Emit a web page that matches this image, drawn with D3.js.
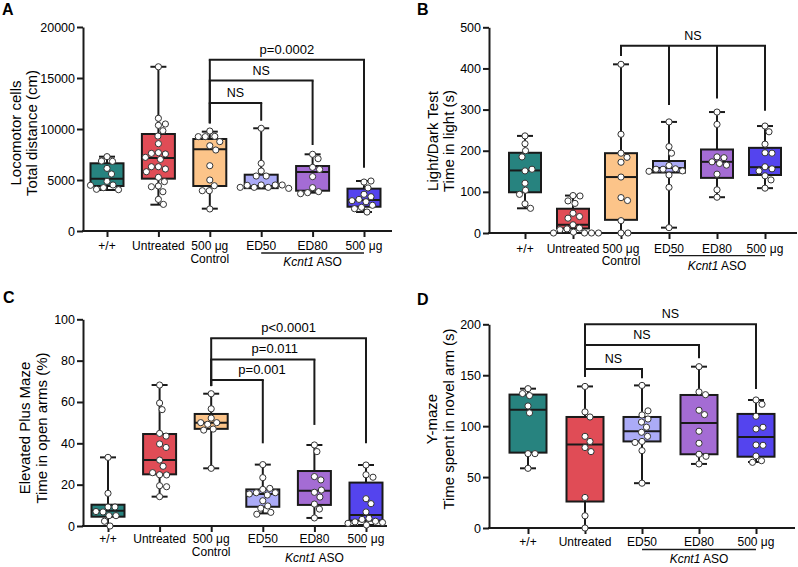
<!DOCTYPE html>
<html><head><meta charset="utf-8">
<script src="https://cdn.jsdelivr.net/npm/d3@7"></script>
<style>body{margin:0;background:#fff} text{font-family:"Liberation Sans",Arial,Helvetica,sans-serif;fill:#000}</style>
</head><body><svg id="c" width="798" height="567"></svg>
<script>
// ---------- DATA ----------
const groupsABC = ["+/+", "Untreated", "500 μg Control", "ED50", "ED80", "500 μg ASO"];
const groupsD = ["+/+", "Untreated", "ED50", "ED80", "500 μg ASO"];
const xLabelsABC = [["+/+"], ["Untreated"], ["500 μg", "Control"], ["ED50"], ["ED80"], ["500 μg"]];
const xLabelsD = [["+/+"], ["Untreated"], ["ED50"], ["ED80"], ["500 μg"]];
const colorsABC = ["#27837f", "#e04c56", "#fcc489", "#ababf7", "#a46cd4", "#5444ee"];
const colorsD = ["#27837f", "#e04c56", "#ababf7", "#a46cd4", "#5444ee"];

const ticksA = [0, 5000, 10000, 15000, 20000];
const ticksB = [0, 100, 200, 300, 400, 500];
const ticksC = [0, 20, 40, 60, 80, 100];
const ticksD = [0, 50, 100, 150, 200];

const titleA = ["Locomotor cells", "Total distance (cm)"];
const titleB = ["Light/Dark Test", "Time in light (s)"];
const titleC = ["Elevated Plus Maze", "Time in open arms (%)"];
const titleD = ["Y-maze", "Time spent in novel arm (s)"];

// box stats: [min, q1, median, q3, max]
const boxA = [[4020,4412,5131,6637,7287],[2580,5131,7157,9510,16100],[2190,4412,8010,9020,9740],
              [4180,4200,4400,5520,10070],[3760,3950,5780,6370,7520],[1860,2380,3040,4150,4900]];
const pointsA = [
  [7290,6830,6860,6140,5590,4870,4510,4250,4090,4050,4480],
  [16100,11050,10360,10490,9830,9310,8560,7680,7550,7610,7220,7020,6300,6080,6300,5810,5260,4840,4410,4340,3850,3100,2610],
  [9800,9280,9250,9250,8760,8360,7940,6400,5000,4440,3950,3950,2160],
  [10070,6630,5880,5390,5390,4510,4280,4280,4510,4480,4510,4280,4180],
  [7520,7090,6240,6040,5330,4250,3860,3760,3660],
  [4800,4900,4220,3600,3360,3100,2970,2870,2520,2320,2190,1860]];

const boxB = [[60,99,152,195,236],[0,11,20,59,91],[0,32,136,194,410],
              [13,147,158,175,270],[87,134,173,203,294],[109,141,160,207,260]];
const pointsB = [
  [236,217,200,185,151,155,121,104,94,71,60],
  [91,90,78,72,48,40,36,20,12,10,8,2,0,0,0,0],
  [410,240,194,184,172,136,86,79,30,0,0],
  [270,210,194,164,156,155,155,151,150,141,111,13],
  [294,264,185,183,169,173,165,143,105,87],
  [260,246,216,195,194,161,156,151,139,129,109]];

const boxC = [[0,4.5,7.4,10.3,33.2],[14.2,25,31.9,44.5,68.2],[27.9,47,50,54.2,64],
              [6.1,9.3,15.5,17.7,29.7],[3.9,10.2,17.1,26.6,39.2],[0.5,2.6,5.3,21,29.5]];
const pointsC = [
  [33.2,15.8,9.2,9.2,6.8,7,5,5,2.3,0],
  [68.2,59.5,56.3,44.8,43.5,39.7,38,31.9,28.9,24.8,24.7,25.8,19.5,19,14.2],
  [64,56.7,52.2,50,49.2,50,46.9,46.4,27.9],
  [29.7,23.4,17.7,18.2,15,16.1,16.1,15.5,12.2,9.7,8.6,6.6,5.7],
  [39.2,36,23.9,22.3,16.3,17.4,14,10.6,8.2,3.9],
  [29.5,24.8,23.6,13.2,10.8,6.8,3.7,3.2,2.3,2,1.7,1.3,0.5]];

const boxD = [[58.6,74,116,131,136.8],[0,26,82,109,139],[44,85,95,109,140],
              [62.9,72.4,103,130.6,158.4],[64.8,70,89.4,112,125.7]];
const pointsD = [
  [136.8,130,132,119.8,113,73,73,58.6],
  [139,114,109,90,85,79,75,30,12,0],
  [140,111,115,107,104,99,94,90,85,84,76,44],
  [158.4,133.6,130.9,115.6,111.3,95,83.2,72.4,70.4,62.9],
  [125.7,121.5,109.7,97.2,98.9,81.5,81.2,70.7,66.1,64.5]];

// significance brackets: label, bar level, legs [group index, leg end value]
const bracketsA = [
  {label: "p=0.0002", level: 16800, legs: [[2, 10560], [5, 6200]]},
  {label: "NS", level: 14750, legs: [[2, 10560], [4, 8430]]},
  {label: "NS", level: 12550, legs: [[2, 10560], [3, 10810]]}];
const bracketsB = [
  {label: "NS", level: 455, legs: [[2, 430], [3, 311], [4, 327], [5, 297]]}];
const bracketsC = [
  {label: "p<0.0001", level: 90.8, legs: [[2, 67.7], [5, 40]]},
  {label: "p=0.011", level: 80.6, legs: [[2, 67.7], [4, 48.9]]},
  {label: "p=0.001", level: 70.6, legs: [[2, 67.7], [3, 40]]}];
const bracketsD = [
  {label: "NS", level: 200, legs: [[1, 148.6], [4, 136.5]]},
  {label: "NS", level: 179.7, legs: [[1, 148.6], [3, 166.6]]},
  {label: "NS", level: 156, legs: [[1, 148.6], [2, 147]]}];

// ---------- DRAW ----------
const svg = d3.select("#c");
const INK = "#1a1a1a";

function swarm(vals, y, r) {
  const placed = [];
  return vals.map(v => {
    const py = y(v);
    let dx = 0;
    for (let k = 0; k < 200; k++) {
      const cand = k === 0 ? 0 : (k % 2 ? 1 : -1) * Math.ceil(k / 2) * 0.5;
      const ok = placed.every(p => (cand - p[0]) ** 2 + (py - p[1]) ** 2 >= (2 * r + 0.8) ** 2);
      if (ok) { dx = cand; break; }
    }
    placed.push([dx, py]);
    return [dx, py];
  });
}

function panel(cfg) {
  const g = svg.append("g");
  const x = d3.scalePoint().domain(cfg.groups).range([cfg.xFirst, cfg.xLast]);
  const y = d3.scaleLinear().domain([0, cfg.ticks[cfg.ticks.length - 1]]).range([cfg.yBottom, cfg.yTop]);

  // y axis
  const ya = g.append("g").attr("transform", `translate(${cfg.axisX},0)`)
    .call(d3.axisLeft(y).tickValues(cfg.ticks).tickSize(6).tickPadding(2).tickSizeOuter(0).tickFormat(d3.format("d")));
  ya.selectAll("path,line").attr("stroke", INK).attr("stroke-width", 2);
  ya.selectAll("text").attr("font-size", 12.5).attr("fill", "#000").style("font-family", "'Liberation Sans',Arial,sans-serif");

  // x axis
  g.append("line").attr("x1", cfg.axisX - 1).attr("x2", cfg.axisRight)
    .attr("y1", cfg.yBottom).attr("y2", cfg.yBottom).attr("stroke", INK).attr("stroke-width", 2);
  const xa = g.append("g").attr("transform", `translate(0,${cfg.yBottom})`)
    .call(d3.axisBottom(x).tickSize(6).tickFormat(""));
  xa.select(".domain").remove();
  xa.selectAll("line").attr("stroke", INK).attr("stroke-width", 2);

  // x labels
  cfg.groups.forEach((gname, i) => {
    const t = g.append("text").attr("x", x(gname)).attr("y", cfg.yBottom + cfg.lab1)
      .attr("text-anchor", "middle").attr("font-size", 12);
    cfg.xLabels[i].forEach((ln, j) => {
      t.append("tspan").attr("x", x(gname)).attr("dy", j === 0 ? 0 : 12.5).text(ln);
    });
  });
  // ASO underline + label
  const iE50 = cfg.groups.indexOf("ED50"), iE80 = cfg.groups.indexOf("ED80"), iLast = cfg.groups.length - 1;
  g.append("line").attr("x1", x(cfg.groups[iE50])).attr("x2", x(cfg.groups[iLast]))
    .attr("y1", cfg.yBottom + cfg.ul).attr("y2", cfg.yBottom + cfg.ul).attr("stroke", INK).attr("stroke-width", 1.3);
  const kt = g.append("text").attr("x", x(cfg.groups[iE80])).attr("y", cfg.yBottom + cfg.kc)
    .attr("text-anchor", "middle").attr("font-size", 12);
  kt.append("tspan").attr("font-style", "italic").text("Kcnt1");
  kt.append("tspan").text(" ASO");

  // axis title
  cfg.title.forEach((ln, j) => {
    g.append("text").attr("transform", `translate(${cfg.titleX[j]},${cfg.titleY}) rotate(-90)`)
      .attr("text-anchor", "middle").attr("dy", "0.35em").attr("font-size", cfg.titleSize).text(ln);
  });

  // panel letter
  g.append("text").attr("x", cfg.letterX).attr("y", cfg.letterY).attr("font-size", 16)
    .attr("font-weight", "bold").text(cfg.letter);

  // boxes
  const bw = cfg.boxW, cw = cfg.capW;
  cfg.groups.forEach((gname, i) => {
    const cx = x(gname), b = cfg.box[i];
    const gg = g.append("g");
    gg.append("line").attr("x1", cx).attr("x2", cx).attr("y1", y(b[4])).attr("y2", y(b[3]))
      .attr("stroke", INK).attr("stroke-width", 2);
    gg.append("line").attr("x1", cx).attr("x2", cx).attr("y1", y(b[1])).attr("y2", y(b[0]))
      .attr("stroke", INK).attr("stroke-width", 2);
    [b[0], b[4]].forEach(v => gg.append("line").attr("x1", cx - cw / 2).attr("x2", cx + cw / 2)
      .attr("y1", y(v)).attr("y2", y(v)).attr("stroke", INK).attr("stroke-width", 2));
    gg.append("rect").attr("x", cx - bw / 2).attr("width", bw).attr("y", y(b[3]))
      .attr("height", y(b[1]) - y(b[3])).attr("fill", cfg.colors[i]).attr("stroke", INK).attr("stroke-width", 2);
    gg.append("line").attr("x1", cx - bw / 2).attr("x2", cx + bw / 2).attr("y1", y(b[2])).attr("y2", y(b[2]))
      .attr("stroke", INK).attr("stroke-width", 2);
    const pos = swarm(cfg.points[i], y, 3.1);
    gg.selectAll("circle").data(pos).join("circle")
      .attr("cx", d => cx + d[0]).attr("cy", d => d[1]).attr("r", 3.1)
      .attr("fill", "#fff").attr("stroke", "#333").attr("stroke-width", 1);
  });

  // brackets
  cfg.brackets.forEach((br, k) => {
    const legs = br.legs.map(l => [x(cfg.groups[l[0]]), y(l[1])]);
    const yl = y(br.level);
    const x1 = d3.min(legs, d => d[0]), x2 = d3.max(legs, d => d[0]);
    g.append("line").attr("x1", x1 - 1).attr("x2", x2 + 1).attr("y1", yl).attr("y2", yl)
      .attr("stroke", INK).attr("stroke-width", 2);
    legs.forEach(l => g.append("line").attr("x1", l[0]).attr("x2", l[0]).attr("y1", yl).attr("y2", l[1])
      .attr("stroke", INK).attr("stroke-width", 2));
    g.append("text").attr("x", (x1 + x2) / 2 + (cfg.labelShift ? cfg.labelShift[k] : 0)).attr("y", yl - 6)
      .attr("text-anchor", "middle").attr("font-size", br.label === "NS" ? 12.5 : 13).text(br.label);
  });
}

panel({groups: groupsABC, xLabels: xLabelsABC, colors: colorsABC, ticks: ticksA, title: titleA,
  box: boxA, points: pointsA, brackets: bracketsA, letter: "A", letterX: 2, letterY: 15,
  axisX: 83, axisRight: 392, xFirst: 107, xLast: 364, yBottom: 231, yTop: 27,
  boxW: 33, capW: 16, lab1: 19, ul: 22, kc: 35, titleX: [16, 32], titleY: 133, titleSize: 15});
panel({groups: groupsABC, xLabels: xLabelsABC, colors: colorsABC, ticks: ticksB, title: titleB,
  box: boxB, points: pointsB, brackets: bracketsB, letter: "B", letterX: 417, letterY: 15,
  axisX: 489, axisRight: 797, xFirst: 525, xLast: 765, yBottom: 233, yTop: 27.3,
  boxW: 32, capW: 16, lab1: 19.5, ul: 22.7, kc: 37, titleX: [433, 449], titleY: 141, titleSize: 15});
panel({groups: groupsABC, xLabels: xLabelsABC, colors: colorsABC, ticks: ticksC, title: titleC,
  box: boxC, points: pointsC, brackets: bracketsC, letter: "C", letterX: 3, letterY: 303,
  labelShift: [0, 12, 25],
  axisX: 83, axisRight: 387, xFirst: 108, xLast: 366, yBottom: 526, yTop: 319.3,
  boxW: 33, capW: 16, lab1: 17, ul: 20.7, kc: 35.6, titleX: [25, 41.7], titleY: 428, titleSize: 15});
panel({groups: groupsD, xLabels: xLabelsD, colors: colorsD, ticks: ticksD, title: titleD,
  box: boxD, points: pointsD, brackets: bracketsD, letter: "D", letterX: 417, letterY: 305,
  axisX: 489, axisRight: 795, xFirst: 528, xLast: 756, yBottom: 528, yTop: 324.3,
  boxW: 37, capW: 16, lab1: 18, ul: 21.5, kc: 35, titleX: [431.7, 448.3], titleY: 419, titleSize: 15});
</script>
</body></html>
